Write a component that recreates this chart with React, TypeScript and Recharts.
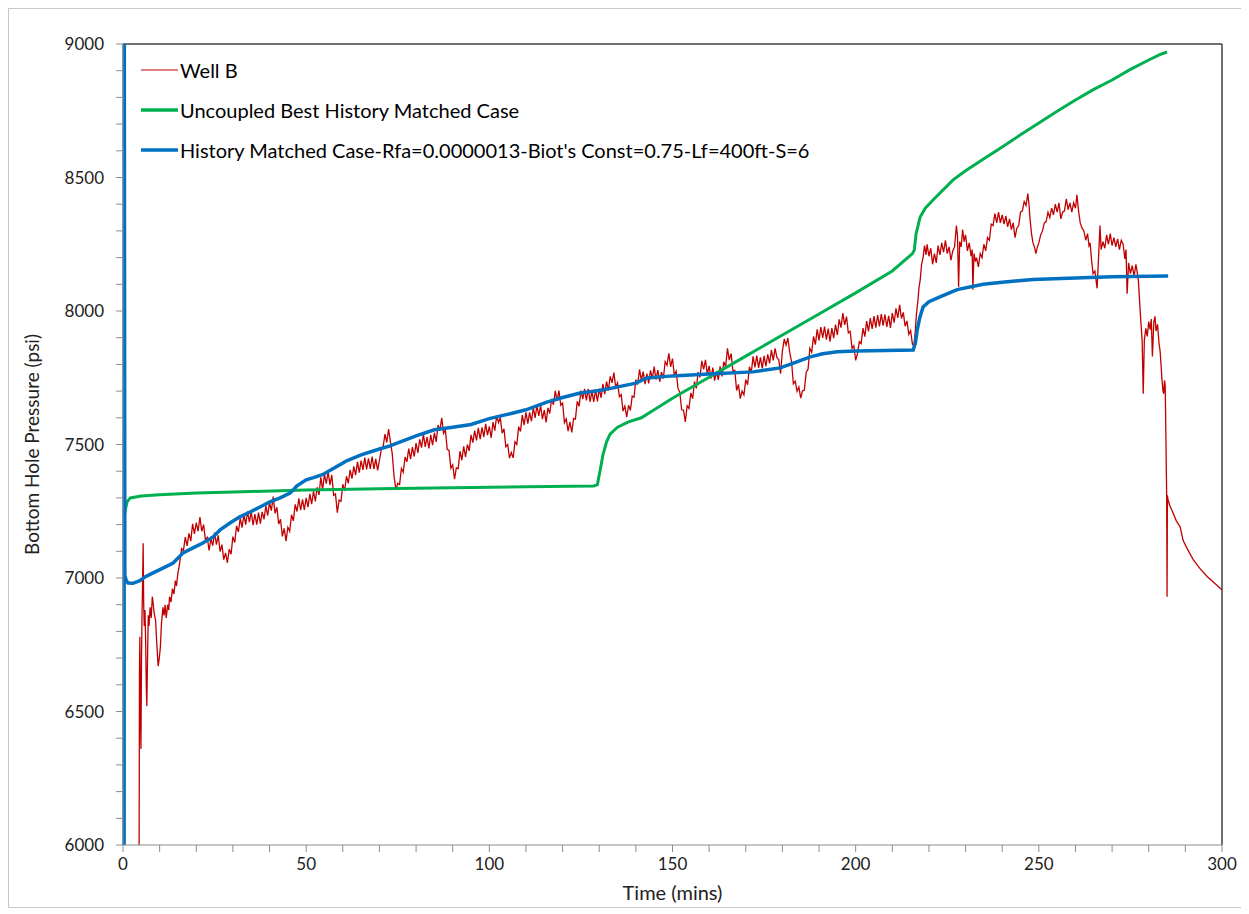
import React from "react";
import { LineChart, Line, XAxis, YAxis, ReferenceLine, Legend } from "recharts";

// Well B measured bottom hole pressure [time (mins), psi]
const wellB: [number, number][] = [
  [4.4, 6000], [4.5, 6650], [4.6, 6780], [4.75, 6500], [4.9, 6360], [5.05, 6700], [5.2, 6870], [5.35, 6980],
  [5.5, 7130], [5.65, 6900], [5.8, 6820], [6.0, 6880], [6.2, 6750], [6.35, 6600], [6.5, 6520], [6.7, 6700],
  [6.9, 6860], [7.1, 6820], [7.4, 6890], [7.7, 6850], [8.0, 6930], [8.2, 6910], [8.5, 6870], [8.9, 6840],
  [9.2, 6760], [9.6, 6670], [9.9, 6700], [10.2, 6740], [10.5, 6830], [10.9, 6890], [11.2, 6860], [11.5, 6900],
  [11.8, 6850], [12.2, 6900], [12.5, 6880], [12.7, 6930], [13.1, 6910], [13.5, 6960], [13.9, 6940], [14.3, 6990],
  [14.6, 6970], [15.0, 7020], [15.3, 7040], [15.6, 7070],
  [16.0, 7110], [16.5, 7103], [17.0, 7153], [17.5, 7120], [18.0, 7167], [18.5, 7138], [19.0, 7203], [19.5, 7165],
  [20.0, 7207], [20.5, 7175], [21.0, 7228], [21.5, 7175], [22.0, 7200], [22.5, 7143], [23.0, 7152], [23.5, 7103],
  [24.0, 7146], [24.5, 7121], [25.0, 7170], [25.5, 7125], [26.0, 7160], [26.5, 7099], [27.0, 7125], [27.5, 7069],
  [28.0, 7094], [28.5, 7057], [29.0, 7108], [29.5, 7089], [30.0, 7155], [30.5, 7133], [31.0, 7195], [31.5, 7173],
  [32.0, 7223], [32.5, 7189], [33.0, 7237], [33.5, 7200], [34.0, 7250], [34.5, 7209], [35.0, 7248], [35.5, 7198],
  [36.0, 7239], [36.5, 7200], [37.0, 7245], [37.5, 7204], [38.0, 7248], [38.5, 7220], [39.0, 7270], [39.5, 7234],
  [40.0, 7283], [40.5, 7252], [41.0, 7305], [41.5, 7242], [42.0, 7265], [42.5, 7202], [43.0, 7220], [43.5, 7156],
  [44.0, 7186], [44.5, 7138], [45.0, 7190], [45.5, 7175], [46.0, 7237], [46.5, 7214], [47.0, 7276], [47.5, 7249],
  [48.0, 7298], [48.5, 7254], [49.0, 7295], [49.5, 7255],
  [50.0, 7300], [50.5, 7265], [51.0, 7315], [51.5, 7277], [52.0, 7325], [52.5, 7287], [53.0, 7340], [53.5, 7311],
  [54.0, 7377], [54.5, 7332], [55.0, 7388], [55.5, 7353], [56.0, 7397], [56.5, 7349], [57.0, 7386], [57.5, 7310],
  [58.0, 7315], [58.5, 7245], [59.0, 7292], [59.5, 7287], [60.0, 7351], [60.5, 7326], [61.0, 7381], [61.5, 7355],
  [62.0, 7405], [62.5, 7372], [63.0, 7418], [63.5, 7385], [64.0, 7435], [64.5, 7395], [65.0, 7440], [65.5, 7405],
  [66.0, 7451], [66.5, 7407], [67.0, 7448], [67.5, 7409], [68.0, 7455], [68.5, 7408], [69.0, 7446], [69.5, 7403],
  [70.0, 7441], [70.5, 7480], [71.0, 7490], [71.5, 7539], [72.0, 7508], [72.5, 7558], [73.0, 7510], [73.5, 7465],
  [74.0, 7380], [74.5, 7330], [75.0, 7355], [75.5, 7350], [76.0, 7410], [76.5, 7396], [77.0, 7453], [77.5, 7435],
  [78.0, 7485], [78.5, 7445], [79.0, 7490], [79.5, 7455], [80.0, 7505], [80.5, 7469], [81.0, 7519], [81.5, 7488],
  [82.0, 7539], [82.5, 7491], [83.0, 7528], [83.5, 7485], [84.0, 7536], [84.5, 7498], [85.0, 7544], [85.5, 7510],
  [86.0, 7573], [86.5, 7552], [87.0, 7600], [87.5, 7542], [88.0, 7555], [88.5, 7482], [89.0, 7478], [89.5, 7411],
  [90.0, 7424], [90.5, 7370], [91.0, 7413], [91.5, 7409], [92.0, 7475], [92.5, 7441], [93.0, 7493], [93.5, 7454],
  [94.0, 7500], [94.5, 7476], [95.0, 7536], [95.5, 7507], [96.0, 7552], [96.5, 7515], [97.0, 7562], [97.5, 7520],
  [98.0, 7564], [98.5, 7528], [99.0, 7577], [99.5, 7535],
  [100.0, 7568], [100.5, 7525], [101.0, 7584], [101.5, 7552], [102.0, 7608], [102.5, 7582], [103.0, 7600], [103.5, 7542],
  [104.0, 7559], [104.5, 7492], [105.0, 7500], [105.5, 7449], [106.0, 7470], [106.5, 7450], [107.0, 7510], [107.5, 7500],
  [108.0, 7567], [108.5, 7549], [109.0, 7610], [109.5, 7573], [110.0, 7620], [110.5, 7578], [111.0, 7620], [111.5, 7587],
  [112.0, 7638], [112.5, 7600], [113.0, 7646], [113.5, 7607], [114.0, 7646], [114.5, 7595], [115.0, 7629], [115.5, 7583],
  [116.0, 7637], [116.5, 7616], [117.0, 7671], [117.5, 7649], [118.0, 7701], [118.5, 7664], [119.0, 7702], [119.5, 7647],
  [120.0, 7655], [120.5, 7582], [121.0, 7596], [121.5, 7550], [122.0, 7585], [122.5, 7545], [123.0, 7598], [123.5, 7595],
  [124.0, 7662], [124.5, 7643], [125.0, 7702], [125.5, 7670], [126.0, 7708], [126.5, 7665], [127.0, 7708], [127.5, 7660],
  [128.0, 7700], [128.5, 7660], [129.0, 7705], [129.5, 7661], [130.0, 7709], [130.5, 7675], [131.0, 7727], [131.5, 7689],
  [132.0, 7736], [132.5, 7703], [133.0, 7755], [133.5, 7731], [134.0, 7769], [134.5, 7714], [135.0, 7731], [135.5, 7679],
  [136.0, 7687], [136.5, 7625], [137.0, 7644], [137.5, 7602], [138.0, 7647], [138.5, 7628], [139.0, 7681], [139.5, 7677],
  [140.0, 7743], [140.5, 7725], [141.0, 7781], [141.5, 7740], [142.0, 7773], [142.5, 7726], [143.0, 7765], [143.5, 7729],
  [144.0, 7778], [144.5, 7747], [145.0, 7792], [145.5, 7743], [146.0, 7779], [146.5, 7735], [147.0, 7771], [147.5, 7747],
  [148.0, 7810], [148.5, 7797], [149.0, 7841], [149.5, 7791],
  [150.0, 7822], [150.5, 7760], [151.0, 7775], [151.5, 7710], [152.0, 7695], [152.5, 7630], [153.0, 7629], [153.5, 7585],
  [154.0, 7645], [154.5, 7635], [155.0, 7693], [155.5, 7672], [156.0, 7736], [156.5, 7710], [157.0, 7771], [157.5, 7752],
  [158.0, 7813], [158.5, 7781], [159.0, 7817], [159.5, 7763], [160.0, 7794], [160.5, 7747], [161.0, 7788], [161.5, 7739],
  [162.0, 7775], [162.5, 7742], [163.0, 7793], [163.5, 7755], [164.0, 7810], [164.5, 7790], [165.0, 7860], [165.5, 7816],
  [166.0, 7841], [166.5, 7774], [167.0, 7778], [167.5, 7702], [168.0, 7725], [168.5, 7672], [169.0, 7700], [169.5, 7686],
  [170.0, 7743], [170.5, 7724], [171.0, 7791], [171.5, 7768], [172.0, 7830], [172.5, 7789], [173.0, 7833], [173.5, 7787],
  [174.0, 7826], [174.5, 7785], [175.0, 7832], [175.5, 7793], [176.0, 7838], [176.5, 7804], [177.0, 7854], [177.5, 7815],
  [178.0, 7860], [178.5, 7825], [179.0, 7818], [179.5, 7765], [180.0, 7850], [180.5, 7895], [181.0, 7872], [181.5, 7899],
  [182.0, 7845], [182.5, 7810], [183.0, 7727], [183.5, 7737], [184.0, 7699], [184.5, 7715], [185.0, 7674], [185.5, 7701],
  [186.0, 7704], [186.5, 7771], [187.0, 7782], [187.5, 7860], [188.0, 7846], [188.5, 7905], [189.0, 7874], [189.5, 7931],
  [190.0, 7890], [190.5, 7940], [191.0, 7899], [191.5, 7942], [192.0, 7893], [192.5, 7934], [193.0, 7885], [193.5, 7936],
  [194.0, 7898], [194.5, 7949], [195.0, 7910], [195.5, 7969], [196.0, 7938], [196.5, 7992], [197.0, 7948], [197.5, 7979],
  [198.0, 7918], [198.5, 7924], [199.0, 7860], [199.5, 7870], [200.0, 7815], [200.5, 7840], [201.0, 7885], [201.5, 7878],
  [202.0, 7936], [202.5, 7904], [203.0, 7962], [203.5, 7924], [204.0, 7973], [204.5, 7933], [205.0, 7981], [205.5, 7938],
  [206.0, 7985], [206.5, 7942], [207.0, 7988], [207.5, 7945], [208.0, 7987], [208.5, 7940], [209.0, 7982], [209.5, 7937],
  [210.0, 7992], [210.5, 7956], [211.0, 8010], [211.5, 7974], [212.0, 8023], [212.5, 7972], [213.0, 7995], [213.5, 7943],
  [214.0, 7963], [214.5, 7912], [215.0, 7927], [215.5, 7875], [215.9, 7870],
  [216.3, 7930], [216.6, 7990], [217.0, 8040], [217.3, 8090], [217.6, 8115], [218.0, 8175], [218.4, 8200], [218.8, 8245],
  [219.2, 8210], [219.5, 8250], [220.0, 8205], [220.5, 8235], [221.0, 8175], [221.5, 8215], [222.0, 8180], [222.5, 8245],
  [223.0, 8210], [223.5, 8255], [224.0, 8220], [224.5, 8265], [225.0, 8215], [225.5, 8240], [226.0, 8190], [226.5, 8225],
  [227.0, 8240], [227.5, 8320], [227.8, 8280], [228.1, 8090], [228.4, 8260], [228.8, 8240], [229.2, 8305], [229.6, 8260],
  [230.0, 8285], [230.5, 8225], [231.0, 8255], [231.5, 8205], [231.8, 8230], [232.0, 8080], [232.3, 8215], [232.7, 8185],
  [233.0, 8200], [233.5, 8165], [234.0, 8215], [234.5, 8200], [235.0, 8250], [235.5, 8225], [236.0, 8275], [236.5, 8265],
  [237.0, 8325], [237.5, 8320], [238.0, 8365], [238.5, 8330], [239.0, 8370], [239.5, 8330], [240.0, 8360], [240.5, 8325],
  [241.0, 8355], [241.5, 8315], [242.0, 8345], [242.5, 8305], [243.0, 8330], [243.5, 8275], [244.0, 8310], [244.5, 8320],
  [245.0, 8370], [245.5, 8375], [246.0, 8410], [246.5, 8395], [247.0, 8440], [247.3, 8400], [247.6, 8345], [248.0, 8290],
  [248.4, 8255], [248.8, 8240], [249.2, 8215], [249.6, 8240], [250.0, 8255], [250.5, 8285], [251.0, 8300], [251.5, 8330],
  [252.0, 8335], [252.5, 8370], [253.0, 8350], [253.5, 8385], [254.0, 8360], [254.5, 8400], [255.0, 8370], [255.5, 8405],
  [256.0, 8345], [256.5, 8370], [257.0, 8375], [257.5, 8420], [258.0, 8380], [258.5, 8405], [259.0, 8370], [259.5, 8405],
  [260.0, 8385], [260.4, 8435], [260.8, 8380], [261.3, 8330], [261.8, 8310], [262.3, 8300], [262.8, 8265], [263.3, 8290],
  [263.7, 8245], [264.0, 8255], [264.4, 8190], [264.8, 8140], [265.3, 8150], [265.9, 8085], [266.3, 8200], [266.7, 8320],
  [267.0, 8230], [267.5, 8260], [268.0, 8235], [268.5, 8285], [269.0, 8250], [269.5, 8290], [270.0, 8245], [270.5, 8275],
  [271.0, 8240], [271.5, 8270], [272.0, 8230], [272.5, 8265], [273.0, 8250], [273.5, 8195], [273.8, 8230], [274.1, 8065],
  [274.5, 8180], [275.0, 8140], [275.5, 8170], [276.0, 8130], [276.5, 8175], [276.8, 8150], [277.2, 8110], [277.6, 8015],
  [277.9, 7950], [278.2, 7890], [278.5, 7690], [278.8, 7890], [279.2, 7935], [279.6, 7905], [280.0, 7960], [280.4, 7930],
  [280.7, 7970], [281.0, 7830], [281.4, 7960], [281.7, 7980], [282.0, 7925], [282.4, 7950], [282.8, 7880], [283.1, 7850],
  [283.4, 7790], [283.6, 7745], [283.9, 7700], [284.1, 7690], [284.3, 7740], [284.5, 7720], [284.7, 7515], [284.9, 7300],
  [285.0, 6930], [285.1, 7310], [285.3, 7290], [285.8, 7270], [286.6, 7245], [287.5, 7215], [288.6, 7190], [289.4, 7140],
  [290.5, 7110], [292.1, 7070], [294.0, 7035], [296.0, 7005], [298.0, 6980], [299.5, 6962], [300.0, 6955],
];

// Uncoupled best history matched case
const uncoupled: [number, number][] = [
  [0.3, 7230], [0.8, 7266], [1.1, 7285], [2, 7300], [5, 7307], [10, 7312], [20, 7318], [35, 7324], [50, 7330],
  [70, 7334], [90, 7338], [110, 7342], [128.5, 7345], [129.5, 7350], [130.2, 7400], [131, 7460], [132, 7510],
  [133, 7540], [135, 7565], [138, 7585], [141.5, 7600], [145, 7630], [150, 7673], [160, 7752], [170, 7831],
  [180, 7910], [190, 7989], [200, 8068], [210, 8150], [215.5, 8215], [216, 8228], [216.5, 8290], [217.6, 8352],
  [219, 8385], [221.1, 8416], [226.6, 8491], [230, 8525], [235, 8570], [240, 8614], [245, 8660], [250, 8704],
  [255, 8748], [260, 8790], [265, 8830], [270, 8865], [275, 8905], [280, 8940], [283, 8960], [285, 8970],
];

// History matched case (Rfa=0.0000013, Biot's const=0.75, Lf=400ft, S=6)
const historyMatched: [number, number][] = [
  [0.3, 5500], [0.32, 9500], [0.5, 7010], [0.9, 6990], [1.4, 6981], [2.7, 6980], [4.6, 6990], [6, 7004],
  [8.2, 7019], [10.9, 7037], [13.7, 7056], [16.4, 7094], [19.1, 7113], [21.8, 7131], [24.6, 7154], [26.5, 7180],
  [29.2, 7206], [31.9, 7229], [34.7, 7247], [37.4, 7266], [40.1, 7285], [42.9, 7300], [45.6, 7318], [47.5, 7345],
  [50, 7368], [52, 7376], [54.6, 7388], [58, 7415], [61.2, 7440], [65, 7461], [70, 7483], [72.9, 7495], [75, 7506],
  [80, 7532], [85, 7555], [90, 7565], [95, 7575], [100, 7597], [106.5, 7618], [110, 7630], [115.7, 7659],
  [120, 7676], [124.8, 7693], [130, 7702], [133.8, 7712], [140, 7730], [143, 7749], [150, 7757], [160, 7764],
  [172, 7772], [179.4, 7787], [183, 7805], [187.6, 7828], [191, 7840], [195, 7847], [200, 7850], [215.7, 7854],
  [216.3, 7880], [216.8, 7929], [217.5, 7975], [218.4, 8015], [220, 8035], [223, 8053], [227.7, 8080],
  [234.8, 8100], [240, 8108], [248.4, 8118], [260, 8124], [270, 8128], [285.3, 8131],
];

const xTicks = [0, 10, 20, 30, 40, 50, 60, 70, 80, 90, 100, 110, 120, 130, 140, 150, 160, 170, 180, 190, 200,
  210, 220, 230, 240, 250, 260, 270, 280, 290, 300];
const xLabels = [0, 50, 100, 150, 200, 250, 300];
const yTicks = [6000, 6100, 6200, 6300, 6400, 6500, 6600, 6700, 6800, 6900, 7000, 7100, 7200, 7300, 7400, 7500,
  7600, 7700, 7800, 7900, 8000, 8100, 8200, 8300, 8400, 8500, 8600, 8700, 8800, 8900, 9000];
const yLabels = [6000, 6500, 7000, 7500, 8000, 8500, 9000];

const series = [
  { name: "Well B", color: "#C00000", width: 1.3, legendWidth: 1, points: wellB },
  { name: "Uncoupled Best History Matched Case", color: "#00B050", width: 3, legendWidth: 3.5, points: uncoupled },
  { name: "History Matched Case-Rfa=0.0000013-Biot's Const=0.75-Lf=400ft-S=6", color: "#0070C0", width: 3.5, legendWidth: 3.5, points: historyMatched },
];

const FONT = "Lato, 'Open Sans', sans-serif";

const renderLegend = () => (
  <div style={{ fontFamily: FONT, fontSize: 20, color: "#000", whiteSpace: "nowrap" }}>
    {series.map((s) => (
      <div key={s.name} style={{ display: "flex", alignItems: "center", height: 40 }}>
        <svg width={40} height={10}>
          <line x1={1} y1={5} x2={38} y2={5} stroke={s.color} strokeWidth={s.legendWidth} />
        </svg>
        <span>{s.name}</span>
      </div>
    ))}
  </div>
);

export default function App() {
  return (
    <div style={{ width: 1233, height: 898, border: "1px solid #c8c8c8", background: "#fff" }}>
      <LineChart width={1233} height={898} margin={{ top: 35, right: 20, bottom: 6, left: 14 }}>
        <XAxis
          dataKey="t"
          type="number"
          domain={[0, 300]}
          ticks={xTicks}
          tickFormatter={(v: number) => (xLabels.includes(v) ? String(v) : "")}
          tickSize={7}
          tickMargin={6}
          height={56}
          stroke="#8c8c8c"
          tick={{ fill: "#222", fontSize: 17, fontFamily: FONT }}
          label={{ value: "Time (mins)", position: "insideBottom", offset: 1, fill: "#222", fontSize: 20, fontFamily: FONT }}
        />
        <YAxis
          type="number"
          domain={[6000, 9000]}
          allowDataOverflow
          ticks={yTicks}
          tickFormatter={(v: number) => (yLabels.includes(v) ? String(v) : "")}
          tickSize={7}
          tickMargin={12}
          width={100}
          stroke="#8c8c8c"
          tick={{ fill: "#222", fontSize: 17, fontFamily: FONT }}
          label={{
            value: "Bottom Hole Pressure (psi)",
            angle: -90,
            position: "insideLeft",
            offset: 9,
            fill: "#222",
            fontSize: 19,
            fontFamily: FONT,
            style: { textAnchor: "middle" },
          }}
        />
        <ReferenceLine y={9000} stroke="#404040" strokeWidth={1.5} />
        <ReferenceLine x={300} stroke="#404040" strokeWidth={1.5} />
        {series.map((s) => (
          <Line
            key={s.name}
            data={s.points.map(([t, p]) => ({ t, p }))}
            dataKey="p"
            name={s.name}
            type="linear"
            stroke={s.color}
            strokeWidth={s.width}
            dot={false}
            activeDot={false}
            isAnimationActive={false}
          />
        ))}
        <Legend
          content={renderLegend}
          layout="vertical"
          align="center"
          verticalAlign="middle"
          wrapperStyle={{ top: 41, left: 131, width: "auto" }}
        />
      </LineChart>
    </div>
  );
}
